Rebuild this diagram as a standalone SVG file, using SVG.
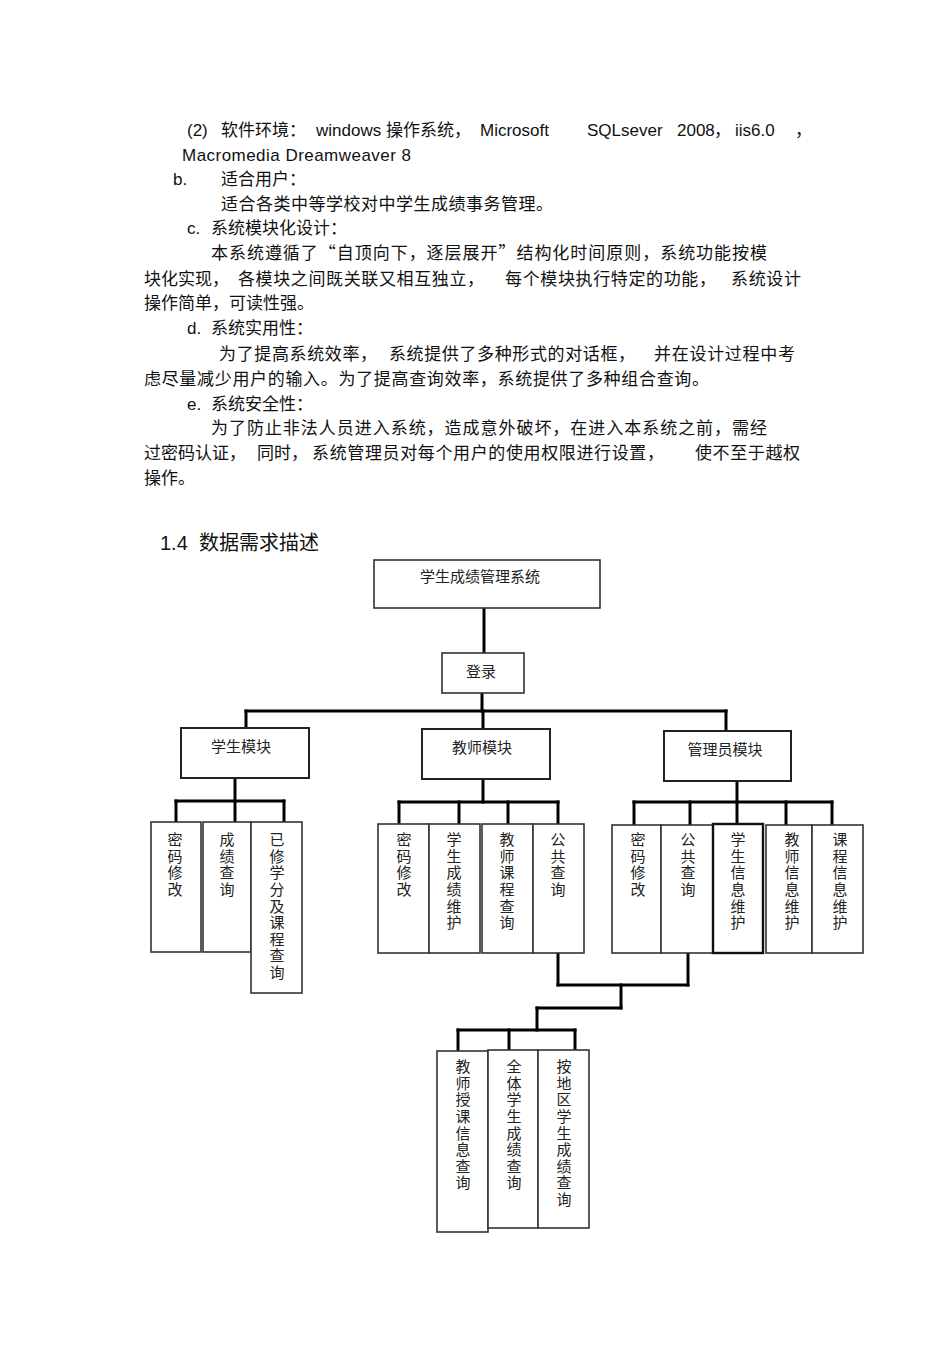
<svg xmlns="http://www.w3.org/2000/svg" width="950" height="1345" viewBox="0 0 950 1345">
<style>
.t{font-family:"Liberation Sans","Noto Sans CJK SC",sans-serif;font-size:17px;fill:#111}
.c{font-family:"Noto Sans CJK SC","Liberation Sans",sans-serif;font-size:17px;fill:#111}
.h{font-family:"Liberation Sans","Noto Sans CJK SC",sans-serif;font-size:20px;fill:#111}
.n{font-family:"Noto Sans CJK SC","Liberation Sans",sans-serif;font-size:15px;fill:#222;text-anchor:middle}
.v{font-family:"Noto Sans CJK SC","Liberation Sans",sans-serif;font-size:15px;fill:#222;writing-mode:vertical-rl;text-orientation:upright;letter-spacing:1.6px}
.box{fill:#fff;stroke:#333;stroke-width:1.6}
.mbox{fill:#fff;stroke:#222;stroke-width:2}
.bold{fill:#fff;stroke:#111;stroke-width:2.4}
.conn line{stroke:#000;stroke-width:3;stroke-linecap:square}
</style>
<rect width="950" height="1345" fill="#fff"/>

<g id="body-text">
<text class="t" x="187" y="136">(2)</text>
<text class="c" x="221" y="136">软件环境：</text>
<text class="t" x="316" y="136">windows</text>
<text class="c" x="386" y="136">操作系统，</text>
<text class="t" x="480" y="136">Microsoft</text>
<text class="t" x="587" y="136">SQLsever</text>
<text class="t" x="677" y="136">2008</text>
<text class="c" x="714" y="136">，</text>
<text class="t" x="735" y="136">iis6.0</text>
<text class="c" x="795" y="136">，</text>
<text class="t" x="182" y="161" textLength="229">Macromedia Dreamweaver 8</text>
<text class="t" x="173" y="185">b.</text>
<text class="c" x="221" y="185">适合用户：</text>
<text class="c" x="221" y="210" textLength="332">适合各类中等学校对中学生成绩事务管理。</text>
<text class="t" x="187" y="234">c.</text>
<text class="c" x="211" y="234">系统模块化设计：</text>
<text class="c" x="211" y="259" textLength="556">本系统遵循了“自顶向下，逐层展开”结构化时间原则，系统功能按模</text>
<text class="c" x="144" y="285">块化实现，</text>
<text class="c" x="238" y="285" textLength="246">各模块之间既关联又相互独立，</text>
<text class="c" x="505" y="285" textLength="211">每个模块执行特定的功能，</text>
<text class="c" x="731" y="285" textLength="70">系统设计</text>
<text class="c" x="144" y="309">操作简单，可读性强。</text>
<text class="t" x="187" y="334">d.</text>
<text class="c" x="211" y="334">系统实用性：</text>
<text class="c" x="219" y="360" textLength="158">为了提高系统效率，</text>
<text class="c" x="389" y="360" textLength="246">系统提供了多种形式的对话框，</text>
<text class="c" x="654" y="360" textLength="141">并在设计过程中考</text>
<text class="c" x="144" y="385" textLength="565">虑尽量减少用户的输入。为了提高查询效率，系统提供了多种组合查询。</text>
<text class="t" x="187" y="410">e.</text>
<text class="c" x="211" y="410">系统安全性：</text>
<text class="c" x="211" y="434" textLength="556">为了防止非法人员进入系统，造成意外破坏，在进入本系统之前，需经</text>
<text class="c" x="144" y="459">过密码认证，</text>
<text class="c" x="257" y="459">同时，</text>
<text class="c" x="312" y="459" textLength="352">系统管理员对每个用户的使用权限进行设置，</text>
<text class="c" x="695" y="459" textLength="105">使不至于越权</text>
<text class="c" x="144" y="484">操作。</text>
<text class="h" x="160" y="550">1.4</text>
<text class="h" x="199" y="550">数据需求描述</text>
</g>

<g class="conn" id="connectors">
<line x1="484" y1="608" x2="484" y2="653"/>
<line x1="482" y1="693" x2="482" y2="711"/>
<line x1="246" y1="711" x2="726" y2="711"/>
<line x1="246" y1="711" x2="246" y2="728"/>
<line x1="483" y1="711" x2="483" y2="729"/>
<line x1="726" y1="711" x2="726" y2="731"/>
<line x1="235" y1="778" x2="235" y2="822"/>
<line x1="176" y1="801" x2="284" y2="801"/>
<line x1="176" y1="801" x2="176" y2="822"/>
<line x1="284" y1="801" x2="284" y2="822"/>
<line x1="483" y1="779" x2="483" y2="802"/>
<line x1="399" y1="802" x2="558" y2="802"/>
<line x1="399" y1="802" x2="399" y2="824"/>
<line x1="459" y1="802" x2="459" y2="824"/>
<line x1="508" y1="802" x2="508" y2="824"/>
<line x1="558" y1="802" x2="558" y2="824"/>
<line x1="737" y1="781" x2="737" y2="802"/>
<line x1="634" y1="802" x2="832" y2="802"/>
<line x1="634" y1="802" x2="634" y2="825"/>
<line x1="690" y1="802" x2="690" y2="825"/>
<line x1="737" y1="802" x2="737" y2="825"/>
<line x1="786" y1="802" x2="786" y2="825"/>
<line x1="832" y1="802" x2="832" y2="825"/>
<line x1="558" y1="953" x2="558" y2="985"/>
<line x1="688" y1="953" x2="688" y2="985"/>
<line x1="558" y1="985" x2="688" y2="985"/>
<line x1="621" y1="985" x2="621" y2="1008"/>
<line x1="537" y1="1008" x2="621" y2="1008"/>
<line x1="537" y1="1008" x2="537" y2="1030"/>
<line x1="458" y1="1030" x2="575" y2="1030"/>
<line x1="458" y1="1030" x2="458" y2="1051"/>
<line x1="509" y1="1030" x2="509" y2="1050"/>
<line x1="575" y1="1030" x2="575" y2="1050"/>
</g>

<g id="root"><rect class="box" x="374" y="560" width="226" height="48"/><text class="n" x="480" y="582">学生成绩管理系统</text></g>
<g id="login"><rect class="box" x="442" y="653" width="82" height="40"/><text class="n" x="481" y="677">登录</text></g>
<g id="student"><rect class="mbox" x="181" y="728" width="128" height="50"/><text class="n" x="241" y="752">学生模块</text></g>
<g id="teacher"><rect class="mbox" x="422" y="729" width="128" height="50"/><text class="n" x="482" y="753">教师模块</text></g>
<g id="admin"><rect class="mbox" x="664" y="731" width="127" height="50"/><text class="n" x="725" y="755">管理员模块</text></g>

<g id="s1"><rect class="box" x="151" y="822" width="50" height="130"/><text class="v" x="175" y="832">密码修改</text></g>
<g id="s2"><rect class="box" x="203" y="822" width="48" height="130"/><text class="v" x="227" y="832">成绩查询</text></g>
<g id="s3"><rect class="box" x="251" y="822" width="51" height="171"/><text class="v" x="277" y="832">已修学分及课程查询</text></g>

<g id="t1"><rect class="box" x="378" y="824" width="51" height="129"/><text class="v" x="404" y="832">密码修改</text></g>
<g id="t2"><rect class="box" x="429" y="824" width="51" height="129"/><text class="v" x="454" y="832">学生成绩维护</text></g>
<g id="t3"><rect class="box" x="482" y="824" width="51" height="129"/><text class="v" x="507" y="832">教师课程查询</text></g>
<g id="t4"><rect class="box" x="533" y="824" width="51" height="129"/><text class="v" x="558" y="832">公共查询</text></g>

<g id="a1"><rect class="box" x="612" y="825" width="49" height="128"/><text class="v" x="638" y="832">密码修改</text></g>
<g id="a2"><rect class="box" x="661" y="825" width="52" height="128"/><text class="v" x="688" y="832">公共查询</text></g>
<g id="a3"><rect class="bold" x="713" y="824" width="50" height="129"/><text class="v" x="738" y="832">学生信息维护</text></g>
<g id="a4"><rect class="box" x="766" y="825" width="46" height="128"/><text class="v" x="792" y="832">教师信息维护</text></g>
<g id="a5"><rect class="box" x="812" y="825" width="51" height="128"/><text class="v" x="840" y="832">课程信息维护</text></g>

<g id="q1"><rect class="box" x="437" y="1051" width="51" height="181"/><text class="v" x="463" y="1059">教师授课信息查询</text></g>
<g id="q2"><rect class="box" x="488" y="1050" width="50" height="178"/><text class="v" x="514" y="1059">全体学生成绩查询</text></g>
<g id="q3"><rect class="box" x="538" y="1050" width="51" height="178"/><text class="v" x="564" y="1059">按地区学生成绩查询</text></g>
</svg>
